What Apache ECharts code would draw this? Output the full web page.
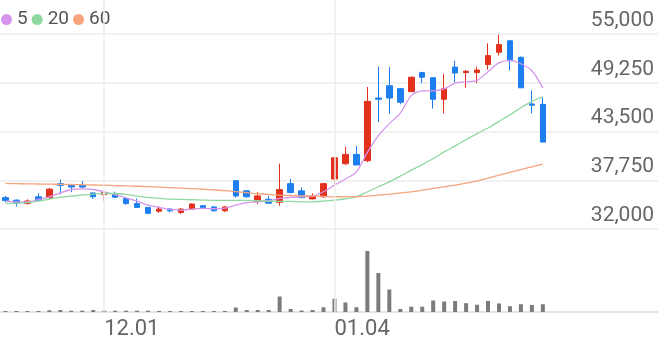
<!DOCTYPE html>
<html><head><meta charset="utf-8">
<script src="https://cdn.jsdelivr.net/npm/echarts@6/dist/echarts.min.js"></script>
<style>html,body{margin:0;padding:0;background:#fff}#c{width:658px;height:342px}</style>
</head><body><div id="c"></div>
<script>
const dates = ['11.18','11.19','11.20','11.23','11.24','11.25','11.26','11.27','11.30','12.01',
  '12.02','12.03','12.04','12.07','12.08','12.09','12.10','12.11','12.14','12.15',
  '12.16','12.17','12.18','12.21','12.22','12.23','12.24','12.28','12.29','12.30',
  '01.04','01.05','01.06','01.07','01.08','01.11','01.12','01.13','01.14','01.15',
  '01.18','01.19','01.20','01.21','01.22','01.25','01.26','01.27','01.28','01.29'];
const emptySlots = ['','','','','','','','','',''];
const opens  = [35700,35400,35000,35800,35700,37350,37150,37150,36250,36050,36100,35600,35000,34550,34100,34350,33950,34350,34750,34600,34150,37700,36500,35250,35500,35150,37350,36500,35550,35800,37900,39700,40800,40050,47450,48900,48550,48200,50450,49850,47300,51100,50450,50450,51400,52850,54200,52250,46750,46700];
const closes = [35350,35100,35300,35400,36700,37150,36950,36950,35800,36300,35750,35000,34550,33850,34350,34150,34350,34950,34500,34150,34600,35900,35800,35900,35050,36650,36300,35700,35900,37350,40400,40800,39550,47050,47300,47450,46950,49900,49900,47300,48550,50400,50600,50750,52450,53750,51850,48650,46600,42250];
const lows   = [35150,34650,34900,35300,35550,36100,36350,36800,35550,35300,35700,34850,34500,33800,33900,33950,33750,34250,34450,34100,34000,35700,35700,34950,35000,34750,36200,35650,35500,35700,37250,39550,39550,39900,44600,45600,46700,48150,49200,46200,45650,49300,48650,49200,50800,52450,50700,48650,45650,42250];
const highs  = [35900,35500,35500,36200,36850,37850,37200,37650,36300,36300,36400,35700,35600,34600,34700,34450,34450,35000,34800,34700,34700,37750,36600,36350,35900,39700,37900,36900,36200,37450,40500,41700,41800,48750,51150,51100,48650,50000,50550,49900,50300,51850,50750,51150,53900,54900,54300,52350,48350,47550];
const volumes = [50000,50000,50000,50000,85000,100000,65000,65000,100000,65000,65000,65000,65000,65000,50000,50000,50000,50000,50000,50000,50000,225000,100000,100000,100000,775000,150000,75000,100000,235000,665000,475000,240000,3050000,1950000,1125000,150000,265000,265000,575000,525000,550000,440000,360000,550000,425000,290000,390000,350000,390000];
const ma5  = [35290,35210,35210,35490,35800,36270,36660,36740,36660,36390,36040,35680,35290,34820,34550,34310,34230,34350,34430,34390,34470,34820,35100,35210,35330,35600,35720,35800,35880,36390,37170,37900,38740,41030,43020,44430,45660,47730,48300,48300,48520,49210,49350,49520,50550,51590,51880,51490,50660,48620];
const ma20 = [35020,35020,35100,35290,35530,35720,35880,36000,36110,36190,36190,36080,35880,35720,35610,35530,35490,35450,35410,35370,35370,35370,35370,35330,35290,35250,35250,35210,35210,35290,35410,35570,35800,36390,36980,37560,38230,38940,39600,40310,41090,41800,42540,43250,43910,44700,45480,46300,47050,47600];
const ma60 = [37370,37350,37330,37310,37290,37270,37250,37220,37190,37160,37120,37080,37040,36990,36940,36880,36820,36760,36690,36610,36520,36400,36280,36160,36070,36000,35950,35910,35880,35850,35800,35810,35830,35880,35990,36110,36250,36390,36580,36780,36970,37170,37420,37680,38010,38350,38680,39010,39330,39640];
const priceTicks = [32000, 37750, 43500, 49250, 55000];
const labelDates = ['12.01', '01.04'];
const maNames = ['5', '20', '60'];
const maColors = ['#d595ee', '#8fd9a0', '#f6a47e'];

const categories = dates.concat(emptySlots);
const candles = dates.map((d, i) => [opens[i], closes[i], lows[i], highs[i]]);
const UP = '#e2311d', DOWN = '#1d7fef';
const FONT = 'Roboto';

const chart = echarts.init(document.getElementById('c'), null, {renderer: 'canvas'});
chart.setOption({
  animation: false,
  backgroundColor: '#fff',
  textStyle: {fontFamily: FONT},
  legend: {
    data: maNames, left: 1, top: 10, padding: 0,
    icon: 'circle', itemWidth: 11, itemHeight: 11, itemGap: 4,
    textStyle: {fontSize: 19, color: '#555', fontFamily: FONT},
    selectedMode: false
  },
  grid: [
    {left: 0, right: 0, top: 34, bottom: 113},
    {left: 0, right: 0, top: 0, bottom: 30}
  ],
  xAxis: [
    {type: 'category', gridIndex: 0, data: categories, boundaryGap: true,
     axisLine: {show: false}, axisTick: {show: false}, axisLabel: {show: false}, splitLine: {show: false}},
    {type: 'category', gridIndex: 1, data: categories, boundaryGap: true,
     axisLine: {show: true, lineStyle: {color: '#dddddd', width: 1.5}},
     axisTick: {show: false}, splitLine: {show: false},
     axisLabel: {
       interval: (idx, val) => labelDates.indexOf(val) >= 0,
       align: 'left', margin: 6, fontSize: 22, color: '#666', fontFamily: FONT
     }}
  ],
  yAxis: [
    {type: 'value', gridIndex: 0, position: 'right',
     min: priceTicks[0], max: priceTicks[priceTicks.length - 1], interval: priceTicks[1] - priceTicks[0],
     axisLine: {show: false}, axisTick: {show: false},
     splitLine: {show: true, lineStyle: {color: '#ededed', width: 1.5}},
     axisLabel: {inside: true, verticalAlign: 'bottom', margin: 4, padding: [0, 0, 3, 0],
       fontSize: 21, color: '#666', fontFamily: FONT,
       formatter: v => v.toLocaleString('en-US')}},
    {type: 'value', gridIndex: 1, min: 0, max: 15600000, show: false, splitLine: {show: false}}
  ],
  series: [
    {type: 'bar', name: 'vol', xAxisIndex: 1, yAxisIndex: 1, data: volumes, barWidth: 4,
     itemStyle: {color: '#7b7b7b'}, z: 1,
     markLine: {silent: true, symbol: ['none', 'none'], label: {show: false},
       lineStyle: {color: '#eeeeee', width: 1.5, type: 'solid'},
       emphasis: {disabled: true},
       data: labelDates.map(d => ({xAxis: d}))}},
    {type: 'candlestick', name: 'price', xAxisIndex: 0, yAxisIndex: 0, data: candles, barWidth: 6,
     itemStyle: {color: UP, color0: DOWN, borderColor: UP, borderColor0: DOWN, borderWidth: 1}, z: 3},
    {type: 'line', name: maNames[0], data: ma5, xAxisIndex: 0, yAxisIndex: 0, symbol: 'none', smooth: 0.3,
     itemStyle: {color: maColors[0]}, lineStyle: {color: maColors[0], width: 1.3}, z: 4},
    {type: 'line', name: maNames[1], data: ma20, xAxisIndex: 0, yAxisIndex: 0, symbol: 'none', smooth: 0.3,
     itemStyle: {color: maColors[1]}, lineStyle: {color: maColors[1], width: 1.3}, z: 4},
    {type: 'line', name: maNames[2], data: ma60, xAxisIndex: 0, yAxisIndex: 0, symbol: 'none', smooth: 0.3,
     itemStyle: {color: maColors[2]}, lineStyle: {color: maColors[2], width: 1.3}, z: 4}
  ]
});
</script></body></html>
